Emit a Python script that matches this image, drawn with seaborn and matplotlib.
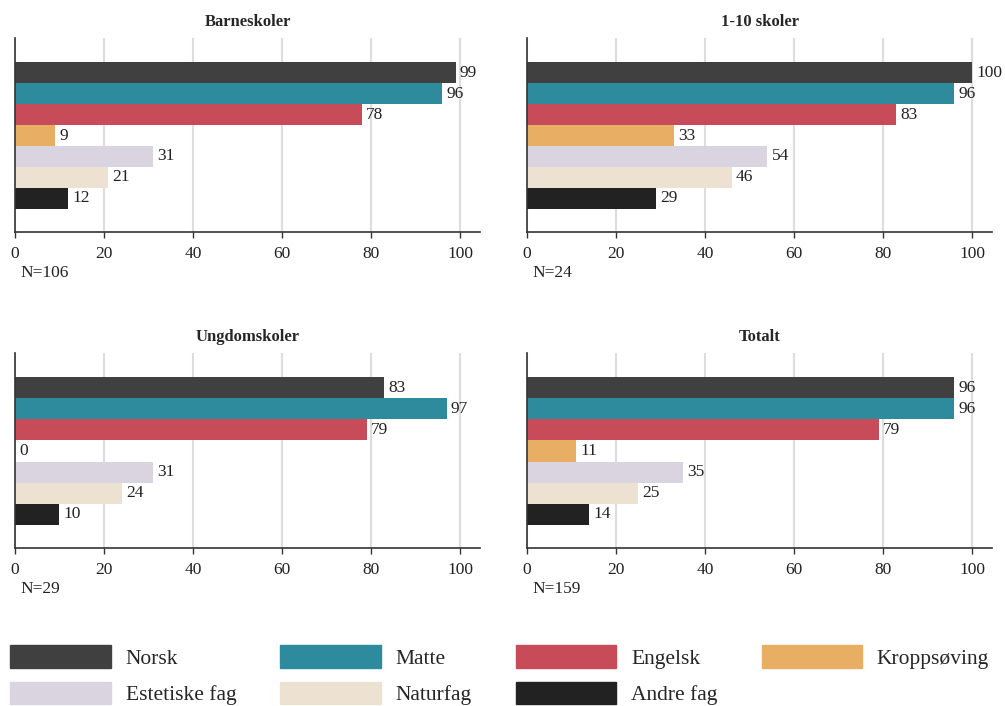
import matplotlib
matplotlib.use("Agg")
import matplotlib.pyplot as plt
import matplotlib.patches as mpatches
import seaborn as sns

# Data
subjects = ['Norsk', 'Matte', 'Engelsk', 'Kroppsøving', 'Estetiske fag', 'Naturfag', 'Andre fag']
colors = ['#404040', '#2e8b9e', '#c84b5a', '#e8ae64', '#dad3e0', '#ede1d2', '#222222']

panel_titles = ['Barneskoler', '1-10 skoler', 'Ungdomskoler', 'Totalt']
panel_n = ['N=106', 'N=24', 'N=29', 'N=159']
barneskoler = [99, 96, 78, 9, 31, 21, 12]
skoler_1_10 = [100, 96, 83, 33, 54, 46, 29]
ungdomskoler = [83, 97, 79, 0, 31, 24, 10]
totalt = [96, 96, 79, 11, 35, 25, 14]
panel_values = [barneskoler, skoler_1_10, ungdomskoler, totalt]
xticks = [0, 20, 40, 60, 80, 100]

sns.set_theme(style="white")
plt.rcParams['font.family'] = ['Liberation Serif', 'DejaVu Serif']

fig = plt.figure(figsize=(10.05, 7.06), dpi=100)

W, H = 1005, 706
positions = [(15, 38, 480, 232), (527, 38, 992, 232),
             (15, 353, 480, 548), (527, 353, 992, 548)]

for (x0, y0, x1, y1), title, n, vals in zip(positions, panel_titles, panel_n, panel_values):
    ax = fig.add_axes([x0 / W, 1 - y1 / H, (x1 - x0) / W, (y1 - y0) / H])
    sns.barplot(x=vals, y=subjects, hue=subjects, palette=colors, width=1.0,
                legend=False, ax=ax, orient='h', saturation=1, linewidth=0)
    for c in ax.containers:
        ax.bar_label(c, padding=3, fontsize=12.5, color='#222222')
    ax.set_xlim(0, 104.5)
    ax.set_ylim(7.6, -1.65)
    ax.set_yticks([])
    ax.set_xticks(xticks)
    ax.tick_params(axis='x', labelsize=12.5, length=4, width=1, color='#333333',
                   bottom=True, pad=6, labelcolor='#222222')
    ax.grid(axis='x', color='#dddddd', linewidth=1.5)
    ax.set_axisbelow(True)
    for s in ['top', 'right']:
        ax.spines[s].set_visible(False)
    for s in ['left', 'bottom']:
        ax.spines[s].set_color('#333333')
        ax.spines[s].set_linewidth(1.2)
    ax.set_ylabel('')
    ax.set_xlabel('')
    ax.set_title(title, fontsize=12, fontweight='bold', pad=9)
    ax.text(0.011, -0.21, n, transform=ax.transAxes, fontsize=12.5,
            ha='left', va='center', color='#222222')

# Legend (column-major order so rows read left to right)
order = [0, 4, 1, 5, 2, 6, 3]
handles = [mpatches.Patch(color=colors[i], label=subjects[i]) for i in order]
fig.legend(handles=handles, ncol=4, loc='upper left', bbox_to_anchor=(0.004, 0.0955),
           frameon=False, fontsize=15.5, handlelength=4.65, handleheight=1.25,
           handletextpad=0.7, columnspacing=2.05, labelspacing=0.6,
           borderaxespad=0, borderpad=0.3)

fig.savefig('out.png', dpi=100)
